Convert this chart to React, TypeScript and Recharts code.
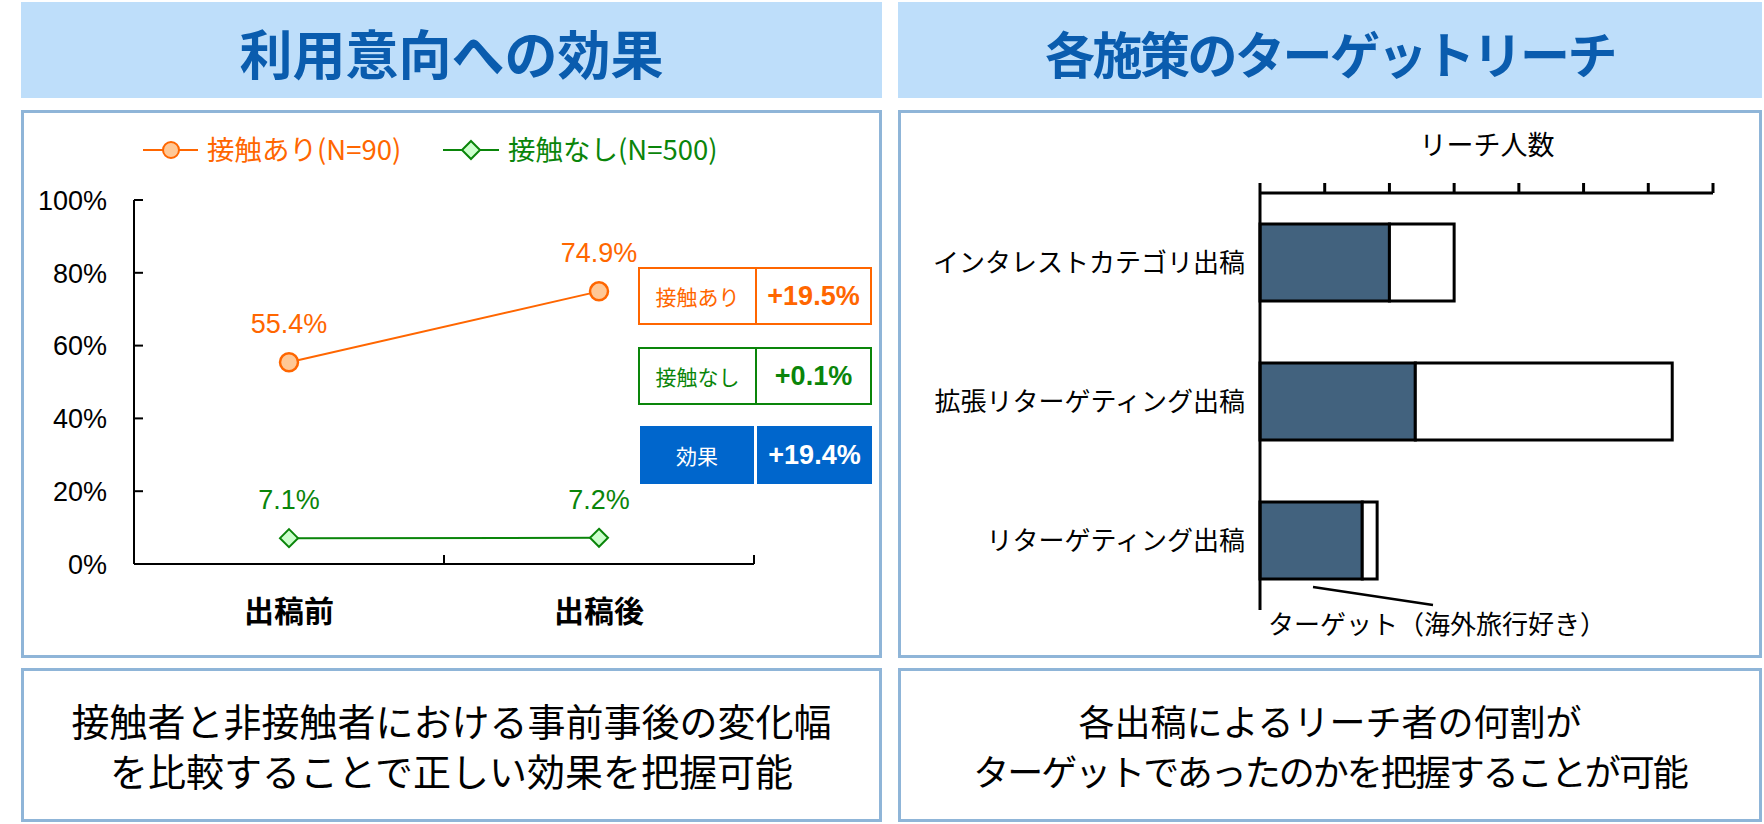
import React from 'react';
import { LineChart, Line, XAxis, YAxis, LabelList, BarChart, Bar } from 'recharts';

const JP = "'Noto Sans CJK JP', sans-serif";
const NARROW = "'Liberation Sans Narrow', 'Liberation Sans', 'Noto Sans CJK JP', sans-serif";
const ARIAL = "'Liberation Sans', Arial, sans-serif";

// left: 利用意向
const phases = ['出稿前', '出稿後'];
const exposedRates = [55.4, 74.9];
const unexposedRates = [7.1, 7.2];
const rateTicks = [0, 20, 40, 60, 80, 100];
const seriesNames = ['接触あり(N=90)', '接触なし(N=500)'];
const diffLabels = ['接触あり', '接触なし', '効果'];
const diffValues = ['+19.5%', '+0.1%', '+19.4%'];

// right: ターゲットリーチ
const reachCategories = ['インタレストカテゴリ出稿', '拡張リターゲティング出稿', 'リターゲティング出稿'];
const targetReach = [2.0, 2.4, 1.58];
const otherReach = [1.0, 3.97, 0.23];
const reachTicks = [0, 1, 2, 3, 4, 5, 6, 7];

const ORANGE = '#FF6600';
const GREEN = '#0A850A';
const BLUE = '#0066CC';
const TITLE = '#0A5CAE';
const HEADER_BG = '#BEDEFA';
const BORDER = '#8FB5D8';

const lineData = phases.map((p, i) => ({
  x: i + 0.5,
  phase: p,
  exposed: exposedRates[i],
  unexposed: unexposedRates[i],
}));

const barData = reachCategories.map((name, i) => ({
  name,
  target: targetReach[i],
  other: otherReach[i],
}));

const pct = (v: any) => `${v}%`;

const renderYTick = (p: any) => (
  <g key={`y-${p.index}`}>
    <line x1={p.x} x2={p.x + 9} y1={p.y} y2={p.y} stroke="#000" strokeWidth={2} />
    <text x={p.x - 27} y={p.y} dy="0.36em" textAnchor="end" fontSize={27} fontFamily={NARROW} fill="#000">
      {pct(p.payload.value)}
    </text>
  </g>
);

const renderXTick = (p: any) => {
  const v = p.payload.value;
  if (Number.isInteger(v)) {
    return (
      <line key={`x-${p.index}`} x1={p.x} x2={p.x} y1={p.y} y2={p.y - 9} stroke="#000" strokeWidth={2} />
    );
  }
  return (
    <text key={`x-${p.index}`} x={p.x} y={p.y + 47} dy="0.36em" textAnchor="middle" fontSize={30} fontWeight="bold" fontFamily={JP} fill="#000">
      {phases[Math.floor(v)]}
    </text>
  );
};

const renderTopTick = (p: any) => (
  <line key={`t-${p.index}`} x1={p.x} x2={p.x} y1={p.y} y2={p.y - 10} stroke="#000" strokeWidth={3} />
);

const circleDot = (p: any) => (
  <circle key={`c-${p.index}`} cx={p.cx} cy={p.cy} r={9} fill="#FFC896" stroke={ORANGE} strokeWidth={2.5} />
);

const diamondDot = (p: any) => (
  <polygon
    key={`d-${p.index}`}
    points={`${p.cx},${p.cy - 9} ${p.cx + 9},${p.cy} ${p.cx},${p.cy + 9} ${p.cx - 9},${p.cy}`}
    fill="#CCFFCC"
    stroke={GREEN}
    strokeWidth={2}
  />
);

const box = (left: number, top: number, width: number, height: number, extra: any = {}) => ({
  position: 'absolute' as const,
  left,
  top,
  width,
  height,
  boxSizing: 'border-box' as const,
  ...extra,
});

const DiffRow = ({ top, label, value, color, filled }: any) => {
  if (filled) {
    return (
      <>
        <div style={box(640, top, 114, 58, { background: color, color: '#fff', display: 'flex', alignItems: 'center', justifyContent: 'center', fontFamily: JP, fontSize: 21 })}>{label}</div>
        <div style={box(757, top, 115, 58, { background: color, color: '#fff', display: 'flex', alignItems: 'center', justifyContent: 'center', fontFamily: ARIAL, fontWeight: 'bold', fontSize: 27 })}>{value}</div>
      </>
    );
  }
  return (
    <div style={box(638, top, 234, 58, { border: `2.5px solid ${color}`, display: 'flex' })}>
      <div style={{ width: 115, borderRight: `2.5px solid ${color}`, display: 'flex', alignItems: 'center', justifyContent: 'center', color, fontFamily: JP, fontSize: 21 }}>{label}</div>
      <div style={{ flex: 1, display: 'flex', alignItems: 'center', justifyContent: 'center', color, fontFamily: ARIAL, fontWeight: 'bold', fontSize: 27 }}>{value}</div>
    </div>
  );
};

export default function App() {
  const titleStyle = { display: 'flex', alignItems: 'center', justifyContent: 'center', fontFamily: JP, fontWeight: 'bold', color: TITLE, background: HEADER_BG };
  const noteStyle = { border: `3px solid ${BORDER}`, display: 'flex', flexDirection: 'column' as const, alignItems: 'center', justifyContent: 'center', fontFamily: JP, lineHeight: '50px', color: '#000' };

  return (
    <div style={{ position: 'absolute', left: 0, top: 0, width: 1764, height: 824, background: '#fff', overflow: 'hidden' }}>
      {/* headers */}
      <div style={box(21, 2, 861, 96, { ...titleStyle, fontSize: 53, paddingTop: 4 })}>利用意向への効果</div>
      <div style={box(898, 2, 864, 96, { ...titleStyle, fontSize: 50, letterSpacing: -2.5, paddingTop: 4 })}>各施策のターゲットリーチ</div>

      {/* chart panels */}
      <div style={box(21, 110, 861, 548, { border: `3px solid ${BORDER}` })} />
      <div style={box(898, 110, 864, 548, { border: `3px solid ${BORDER}` })} />

      {/* notes */}
      <div style={box(21, 668, 861, 154, { ...noteStyle, fontSize: 38 })}>
        <div>接触者と非接触者における事前事後の変化幅</div>
        <div>を比較することで正しい効果を把握可能</div>
      </div>
      <div style={box(898, 668, 864, 154, { ...noteStyle, fontSize: 36 })}>
        <div>各出稿によるリーチ者の何割が</div>
        <div style={{ letterSpacing: -2 }}>ターゲットであったのかを把握することが可能</div>
      </div>

      {/* left legend */}
      <svg style={{ position: 'absolute', left: 0, top: 0 }} width={882} height={180}>
        <line x1={143} x2={198} y1={150} y2={150} stroke={ORANGE} strokeWidth={2} />
        <circle cx={171} cy={150} r={8} fill="#FFC896" stroke={ORANGE} strokeWidth={2} />
        <text x={207} y={150} dy="0.36em" fontSize={27.5} fontFamily={JP} fill={ORANGE}>{seriesNames[0]}</text>
        <line x1={443} x2={499} y1={150} y2={150} stroke={GREEN} strokeWidth={2} />
        <polygon points="471,141 480,150 471,159 462,150" fill="#CCFFCC" stroke={GREEN} strokeWidth={2} />
        <text x={508} y={150} dy="0.36em" fontSize={27.5} fontFamily={JP} fill={GREEN}>{seriesNames[1]}</text>
      </svg>

      {/* left chart */}
      <div style={{ position: 'absolute', left: 21, top: 110 }}>
        <LineChart width={861} height={548} data={lineData} margin={{ top: 90, right: 128, bottom: 14, left: 0 }}>
          <XAxis
            dataKey="x"
            type="number"
            domain={[0, 2]}
            ticks={[0, 0.5, 1, 1.5, 2]}
            interval={0}
            height={80}
            tickLine={false}
            tickSize={0}
            tickMargin={0}
            axisLine={{ stroke: '#000', strokeWidth: 2 }}
            tick={renderXTick}
          />
          <YAxis
            type="number"
            domain={[0, 100]}
            ticks={rateTicks}
            interval={0}
            width={113}
            tickLine={false}
            tickSize={0}
            tickMargin={0}
            axisLine={{ stroke: '#000', strokeWidth: 2 }}
            tick={renderYTick}
          />
          <Line dataKey="exposed" stroke={ORANGE} strokeWidth={2} dot={circleDot} isAnimationActive={false}>
            <LabelList dataKey="exposed" position="top" offset={29} formatter={pct} fill={ORANGE} fontSize={27} fontFamily={NARROW} />
          </Line>
          <Line dataKey="unexposed" stroke={GREEN} strokeWidth={2} dot={diamondDot} isAnimationActive={false}>
            <LabelList dataKey="unexposed" position="top" offset={29} formatter={pct} fill={GREEN} fontSize={27} fontFamily={NARROW} />
          </Line>
        </LineChart>
      </div>

      {/* diff table */}
      <DiffRow top={267} label={diffLabels[0]} value={diffValues[0]} color={ORANGE} />
      <DiffRow top={347} label={diffLabels[1]} value={diffValues[1]} color={GREEN} />
      <DiffRow top={426} label={diffLabels[2]} value={diffValues[2]} color={BLUE} filled />

      {/* right chart */}
      <div style={{ position: 'absolute', left: 1487, top: 143, transform: 'translate(-50%, -50%)', fontFamily: JP, fontSize: 27, whiteSpace: 'nowrap', color: '#000' }}>
        リーチ人数
      </div>
      <div style={{ position: 'absolute', left: 898, top: 110 }}>
        <BarChart layout="vertical" width={864} height={548} data={barData} barSize={77} margin={{ top: 63, right: 49, bottom: 48, left: 0 }}>
          <XAxis
            type="number"
            orientation="top"
            domain={[0, 7]}
            ticks={reachTicks}
            interval={0}
            height={20}
            tickLine={false}
            tickSize={0}
            tickMargin={0}
            axisLine={{ stroke: '#000', strokeWidth: 3 }}
            tick={renderTopTick}
          />
          <YAxis
            type="category"
            dataKey="name"
            width={362}
            interval={0}
            tickLine={false}
            tickSize={0}
            tickMargin={15}
            axisLine={{ stroke: '#000', strokeWidth: 3 }}
            tick={{ fill: '#000', fontSize: 26, fontFamily: JP }}
          />
          <Bar dataKey="target" stackId="r" fill="#42627E" stroke="#000" strokeWidth={3} isAnimationActive={false} />
          <Bar dataKey="other" stackId="r" fill="#fff" stroke="#000" strokeWidth={3} isAnimationActive={false} />
        </BarChart>
      </div>
      <svg style={{ position: 'absolute', left: 898, top: 560 }} width={864} height={90}>
        <line x1={415} y1={27} x2={535} y2={45} stroke="#000" strokeWidth={2.5} />
        <text x={370} y={65} dy="0.36em" fontSize={26} fontFamily={JP} fill="#000">ターゲット（海外旅行好き）</text>
      </svg>
    </div>
  );
}
